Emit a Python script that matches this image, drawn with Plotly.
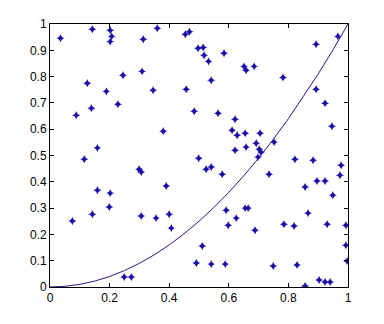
import plotly.graph_objects as go

pts_x = [0.035,0.142,0.202,0.207,0.202,0.360,0.313,0.454,0.468,0.497,0.514,0.517,0.532,0.584,
         0.309,0.245,0.125,0.189,0.346,0.457,0.541,0.651,0.658,0.685,0.782,0.893,0.966,
         0.228,0.139,0.088,0.484,0.564,0.893,0.923,0.380,0.611,0.621,0.628,0.655,0.705,
         0.692,0.658,0.621,0.702,0.708,0.698,0.752,0.946,0.159,0.115,0.499,0.299,0.306,
         0.524,0.541,0.578,0.735,0.822,0.883,0.977,0.973,0.896,0.923,0.856,0.949,0.159,
         0.202,0.390,0.199,0.142,0.075,0.306,0.356,0.400,0.407,0.591,0.598,0.625,0.655,
         0.665,0.688,0.866,0.785,0.819,0.930,0.993,0.993,0.997,0.511,0.491,0.541,0.588,
         0.749,0.829,0.249,0.273,0.856,0.903,0.923,0.940]
pts_y = [0.946,0.980,0.976,0.953,0.933,0.984,0.942,0.961,0.971,0.908,0.911,0.881,0.858,0.889,
         0.820,0.805,0.775,0.744,0.748,0.752,0.786,0.839,0.824,0.839,0.797,0.923,0.953,
         0.695,0.680,0.653,0.668,0.661,0.752,0.699,0.592,0.596,0.638,0.577,0.585,0.585,
         0.547,0.532,0.520,0.524,0.513,0.494,0.551,0.611,0.529,0.486,0.490,0.448,0.437,
         0.448,0.456,0.429,0.429,0.486,0.482,0.463,0.425,0.403,0.403,0.380,0.349,0.368,
         0.357,0.384,0.304,0.277,0.251,0.270,0.262,0.277,0.224,0.292,0.235,0.262,0.300,
         0.300,0.216,0.281,0.239,0.232,0.239,0.235,0.159,0.099,0.156,0.091,0.087,0.087,
         0.080,0.084,0.038,0.038,0.004,0.027,0.019,0.019]

curve_x = [0.0,0.05,0.1,0.15,0.2,0.25,0.3,0.35,0.4,0.45,0.5,0.55,0.6,0.65,0.7,0.75,0.8,0.85,0.9,0.95,1.0]
curve_y = [0.0,0.0025,0.01,0.0225,0.04,0.0625,0.09,0.1225,0.16,0.2025,0.25,0.3025,0.36,0.4225,
           0.49,0.5625,0.64,0.7225,0.81,0.9025,1.0]

x_ticks = [0,0.2,0.4,0.6,0.8,1]
x_labels = ["0","0.2","0.4","0.6","0.8","1"]
y_ticks = [0,0.1,0.2,0.3,0.4,0.5,0.6,0.7,0.8,0.9,1]
y_labels = ["0","0.1","0.2","0.3","0.4","0.5","0.6","0.7","0.8","0.9","1"]

fig = go.Figure()
fig.add_trace(go.Scatter(x=curve_x, y=curve_y, mode="lines",
                         line=dict(color="#1c1c8a", width=1), hoverinfo="skip"))
fig.add_trace(go.Scatter(x=pts_x, y=pts_y, mode="markers",
                         marker=dict(symbol="star-diamond", size=6, color="#1a0fa8",
                                     line=dict(width=0))))

axis_common = dict(showgrid=False, zeroline=False, showline=True, linecolor="black",
                   linewidth=1, mirror="ticks", ticks="inside", ticklen=4,
                   tickcolor="black", tickfont=dict(family="Liberation Sans, Arial", size=12,
                                                      color="black"))
fig.update_xaxes(range=[0,1], tickvals=x_ticks, ticktext=x_labels, **axis_common)
fig.update_yaxes(range=[0,1], tickvals=y_ticks, ticktext=y_labels, **axis_common)
fig.update_layout(width=384, height=324, showlegend=False,
                  margin=dict(l=50, r=36, t=24, b=37),
                  paper_bgcolor="white", plot_bgcolor="white")
fig.write_html("out.html")
